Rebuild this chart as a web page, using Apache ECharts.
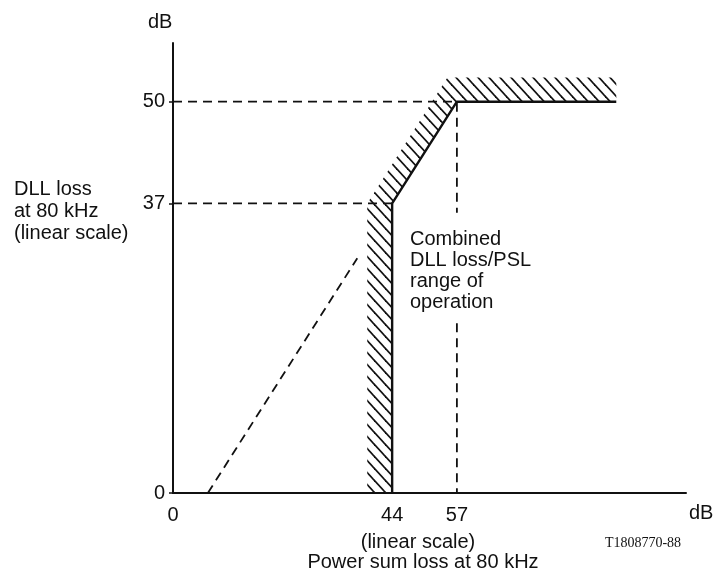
<!DOCTYPE html>
<html>
<head>
<meta charset="utf-8">
<script src="https://cdn.jsdelivr.net/npm/echarts@6/dist/echarts.min.js"></script>
<style>
  html, body { margin: 0; background: #fff; }
  #chart { width: 717px; height: 572px; }
</style>
</head>
<body>
<div id="chart"></div>
<script>
  // tick labels (dB)
  const xTicks = [0, 44, 57]
  const yTicks = [0, 37, 50]

  // limit of the operating range: vertical at 44, slope to (57,50), flat after
  const limitLine = [[44, 0], [44, 37], [57, 50], [89, 50]]
  // hatched (forbidden) side of the limit
  const hatchArea = [[39, 0], [44, 0], [44, 37], [57, 50], [89, 50], [89, 53.1], [55.1, 53.1], [39, 37]]

  // dashed guides
  const guide50 = [[0, 50], [57, 50], [57, 35.8]]
  const guide57 = [[57, 21.7], [57, 0]]
  const guide37 = [[0, 37], [44, 37]]
  const slopeExt = [[7, 0], [37, 30]]

  const INK = '#111'
  const FONT = '"Liberation Sans", Arial, sans-serif'

  // diagonal "\" hatching tile
  function hatchPattern() {
    const w = 11, h = 12
    const c = document.createElement('canvas')
    c.width = w
    c.height = h
    const g = c.getContext('2d')
    g.strokeStyle = INK
    g.lineWidth = 1.7
    for (const dx of [-w, 0, w]) {
      g.beginPath()
      g.moveTo(dx - 1, -h / w)
      g.lineTo(dx + w + 1, h + h / w)
      g.stroke()
    }
    return c
  }
  const pattern = { image: hatchPattern(), repeat: 'repeat' }

  function dashed(data) {
    return {
      type: 'line',
      data: data,
      symbol: 'none',
      silent: true,
      z: 3,
      lineStyle: { color: INK, width: 1.8, type: [9, 6] }
    }
  }

  function label(x, y, text, extra) {
    return {
      type: 'text', x: x, y: y, z: 10,
      style: Object.assign({ text: text, fill: INK, font: '20px ' + FONT, verticalAlign: 'middle' }, extra || {})
    }
  }

  const myChart = echarts.init(document.getElementById('chart'))
  myChart.setOption({
    animation: false,
    backgroundColor: '#fff',
    grid: { left: 173, top: 43, width: 513, height: 450 },
    xAxis: {
      type: 'value',
      min: 0,
      max: 103,
      splitLine: { show: false },
      axisLine: { lineStyle: { color: INK, width: 2 } },
      axisTick: { show: false },
      axisLabel: { customValues: xTicks, color: INK, fontSize: 20, fontFamily: FONT, margin: 12 }
    },
    yAxis: {
      type: 'value',
      min: 0,
      max: 57.5,
      splitLine: { show: false },
      axisLine: { show: true, lineStyle: { color: INK, width: 2 } },
      axisTick: { show: true, customValues: yTicks, length: 4, lineStyle: { color: INK, width: 1.5 } },
      axisLabel: { customValues: yTicks, color: INK, fontSize: 20, fontFamily: FONT, margin: 8 }
    },
    series: [
      {
        type: 'custom',
        silent: true,
        z: 1,
        data: [[0, 0]],
        renderItem: (params, api) => ({
          type: 'polygon',
          shape: { points: hatchArea.map(p => api.coord(p)) },
          style: { fill: pattern, stroke: null }
        })
      },
      dashed(guide50),
      dashed(guide57),
      dashed(guide37),
      dashed(slopeExt),
      {
        type: 'line',
        data: limitLine,
        symbol: 'none',
        silent: true,
        z: 4,
        lineStyle: { color: INK, width: 2.4 }
      }
    ],
    graphic: [
      label(148, 22, 'dB'),
      label(689, 513, 'dB'),
      label(14, 178, 'DLL loss\nat 80 kHz\n(linear scale)', { verticalAlign: 'top', lineHeight: 22 }),
      label(410, 229, 'Combined\nDLL loss/PSL\nrange of\noperation', { verticalAlign: 'top', lineHeight: 21 }),
      label(418, 542, '(linear scale)', { align: 'center' }),
      label(423, 562, 'Power sum loss at 80 kHz', { align: 'center' }),
      label(643, 543, 'T1808770-88', { align: 'center', font: '14px "Liberation Serif", serif' })
    ]
  })
</script>
</body>
</html>
